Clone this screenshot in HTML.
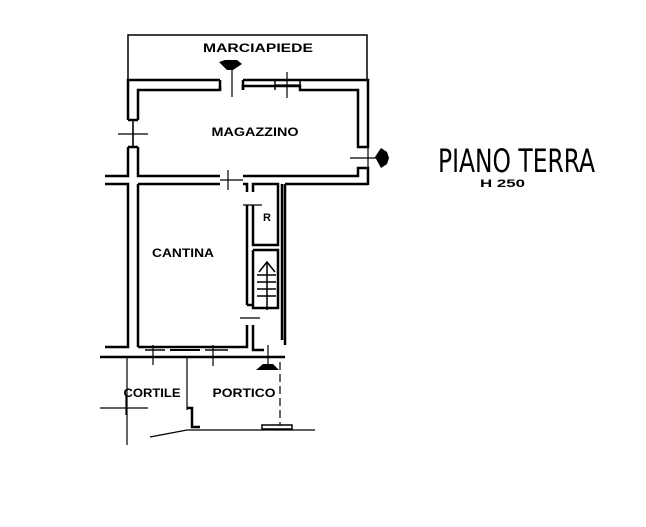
<!DOCTYPE html>
<html><head><style>
html,body{margin:0;padding:0;background:#fff;}
svg{display:block}
text{font-family:"Liberation Sans",sans-serif;fill:#000;}
</style></head><body>
<svg width="646" height="527" viewBox="0 0 646 527" xmlns="http://www.w3.org/2000/svg">
<g fill="none" stroke="#000" stroke-width="2.5">
<polyline points="128,80 128,35 367,35 367,80" stroke-width="1.5"/>
<polyline points="220,80 128,80 128,120"/>
<polyline points="243,80 368,80 368,147 358,147 358,90 300,90 300,86 243,86 243,90"/>
<polyline points="220,86 220,90 138,90 138,120"/>
<line x1="243" y1="80" x2="243" y2="90"/>
<line x1="275" y1="80" x2="275" y2="90" stroke-width="1.5"/>
<line x1="300" y1="80" x2="300" y2="90" stroke-width="1.5"/>
<line x1="220" y1="80" x2="220" y2="90"/>
<polyline points="128,147 128,176 105,176"/>
<polyline points="138,147 138,176 220,176"/>
<line x1="128" y1="120" x2="138" y2="120"/>
<line x1="128" y1="147" x2="138" y2="147"/>
<line x1="133" y1="120" x2="133" y2="147" stroke-width="1.5"/>
<polyline points="243,176 358,176 358,168 368,168 368,185"/>
<polyline points="105,184 128,184 128,347 105,347"/>
<polyline points="138,184 220,184"/>
<polyline points="138,184 138,347"/>
<polyline points="243,184 247,184 247,192"/>
<polyline points="253,192 253,184 278,184 278,245 253,245 253,205"/>
<line x1="247" y1="205" x2="247" y2="305"/>
<polyline points="253,250 278,250 278,308 253,308 253,250"/>
<polyline points="247,305 253,305"/>
<polyline points="282,184 282,340"/>
<polyline points="285,184 368,184" />
<polyline points="285,184 285,345"/>
<polyline points="247,325 247,347 138,347"/>
<polyline points="253,325 253,350 264,350"/>
<line x1="100" y1="357" x2="285" y2="357"/>
<line x1="145" y1="350" x2="165" y2="350" stroke-width="1.5"/>
<line x1="170" y1="350" x2="200" y2="350" stroke-width="2"/>
<line x1="205" y1="350" x2="228" y2="350" stroke-width="1.5"/>
<g stroke-width="1.5">
<line x1="257" y1="275" x2="276" y2="275"/>
<line x1="257" y1="282" x2="276" y2="282"/>
<line x1="257" y1="289" x2="276" y2="289"/>
<line x1="257" y1="296" x2="276" y2="296"/>
<line x1="267" y1="262" x2="267" y2="310"/>
<polyline points="259,272 267,262 275,272"/>
</g>
<g stroke-width="1.2">
<line x1="127" y1="357" x2="127" y2="445"/>
<line x1="187" y1="357" x2="187" y2="410"/>
<line x1="280" y1="362" x2="280" y2="425" stroke-dasharray="8,4"/>
<line x1="100" y1="408" x2="148" y2="408"/>
<line x1="150" y1="437" x2="187" y2="430"/>
<line x1="187" y1="430" x2="315" y2="430"/>
</g>
<polyline points="187,408 192,408 192,427 200,427"/>
<rect x="262" y="425" width="30" height="4" stroke-width="1.5"/>
<g stroke-width="1.2">
<line x1="232" y1="70" x2="232" y2="97"/>
<line x1="287" y1="72" x2="287" y2="98"/><line x1="275" y1="85" x2="300" y2="85"/>
<line x1="118" y1="134" x2="148" y2="134"/><line x1="133" y1="125" x2="133" y2="147"/>
<line x1="350" y1="158" x2="378" y2="158"/><line x1="368" y1="148" x2="368" y2="168"/>
<line x1="228" y1="170" x2="228" y2="190"/><line x1="220" y1="180" x2="243" y2="180"/>
<line x1="243" y1="205" x2="262" y2="205"/>
<line x1="240" y1="318" x2="260" y2="318"/>
<line x1="153" y1="345" x2="153" y2="365"/>
<line x1="213" y1="345" x2="213" y2="366"/>
<line x1="126" y1="395" x2="126" y2="415"/>
<line x1="268" y1="345" x2="268" y2="365"/>
</g>
</g>
<path d="M219,62 L225,60 L237,60 L242,64 L233,70 L227,70 Z" fill="#000"/>
<path d="M375,157 L381,148 L387,152 L389,158 L387,164 L381,168 Z" fill="#000"/>
<path d="M256,370 L263,364 L273,364 L279,370 Z" fill="#000"/>
<text x="258" y="52" font-size="12" font-weight="bold" text-anchor="middle" textLength="110" lengthAdjust="spacingAndGlyphs">MARCIAPIEDE</text>
<text x="255" y="136" font-size="12" font-weight="bold" text-anchor="middle" textLength="87" lengthAdjust="spacingAndGlyphs">MAGAZZINO</text>
<text x="183" y="257" font-size="12" font-weight="bold" text-anchor="middle" textLength="62" lengthAdjust="spacingAndGlyphs">CANTINA</text>
<text x="267" y="221" font-size="11" font-weight="bold" text-anchor="middle">R</text>
<text x="152" y="397" font-size="12" font-weight="bold" text-anchor="middle" textLength="57" lengthAdjust="spacingAndGlyphs">CORTILE</text>
<text x="244" y="397" font-size="12" font-weight="bold" text-anchor="middle" textLength="63" lengthAdjust="spacingAndGlyphs">PORTICO</text>
<text x="438" y="172" font-size="32" textLength="157" lengthAdjust="spacingAndGlyphs" style="font-family:'DejaVu Sans ExtraLight','DejaVu Sans Condensed',sans-serif;font-weight:200">PIANO TERRA</text>
<text x="480" y="187" font-size="11" font-weight="bold" textLength="45" lengthAdjust="spacingAndGlyphs">H 250</text>
</svg>
</body></html>
